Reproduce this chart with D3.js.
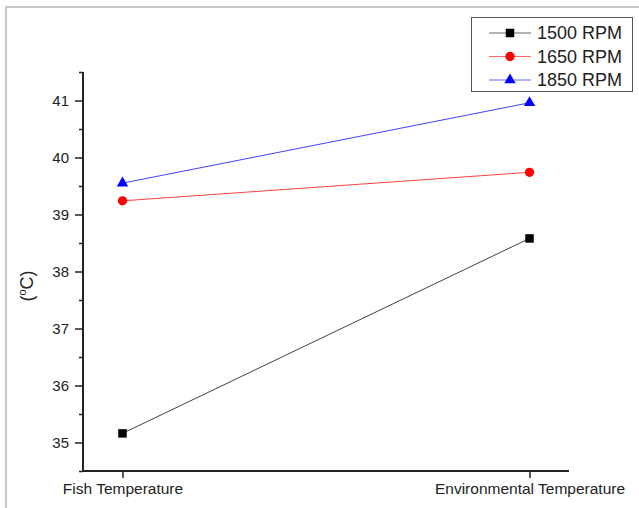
<!DOCTYPE html>
<html><head><meta charset="utf-8">
<script src="https://cdn.jsdelivr.net/npm/d3@7"></script>
<style>body{margin:0;background:#fff}svg{display:block}text{font-family:"Liberation Sans",Arial,sans-serif;fill:#222}</style>
</head><body>
<svg id="c" width="639" height="508"></svg>
<script>
const categories = ["Fish Temperature", "Environmental Temperature"];
const seriesNames = ["1500 RPM", "1650 RPM", "1850 RPM"];
const rpm1500 = [35.16, 38.58];
const rpm1650 = [39.24, 39.74];
const rpm1850 = [39.55, 40.96];
const yTicks = [35, 36, 37, 38, 39, 40, 41];
const yMinorTicks = [34.5, 35.5, 36.5, 37.5, 38.5, 39.5, 40.5, 41.5];

const colors = ["#000000", "#ff0000", "#0000ff"];
const symbols = [d3.symbolSquare, d3.symbolCircle, d3.symbolTriangle];
const symSizes = [72, 68, 56];
const series = [rpm1500, rpm1650, rpm1850];

const svg = d3.select("#c");
// outer frame
svg.append("path").attr("d","M6,508 V7 H639").attr("fill","none").attr("stroke","#c8c8c8").attr("stroke-width",2);

const L = 83, R = 569, T = 72, B = 471;
const y = d3.scaleLinear().domain([34.5, 41.5]).range([B, T]);
const x = d3.scalePoint().domain(categories).range([L, R]).padding(0.097);

// y axis
const yAxis = d3.axisLeft(y).tickValues(yTicks).tickFormat(d3.format("d")).tickSize(8).tickSizeOuter(0);
const gy = svg.append("g").attr("transform",`translate(${L},0)`).call(yAxis);
gy.select(".domain").remove();
gy.selectAll(".tick line").attr("stroke","#222").attr("stroke-width",1.5);
gy.selectAll(".tick text").attr("font-size",15).attr("x",-14).style("font-family","'Liberation Sans',Arial,sans-serif").attr("fill","#222");
const gym = svg.append("g").attr("transform",`translate(${L},0)`).call(d3.axisLeft(y).tickValues(yMinorTicks).tickFormat("").tickSize(4).tickSizeOuter(0));
gym.select(".domain").remove();
gym.selectAll(".tick line").attr("stroke","#222").attr("stroke-width",1.5);

// x axis
const xAxis = d3.axisBottom(x).tickSize(7).tickSizeOuter(0);
const gx = svg.append("g").attr("transform",`translate(0,${B})`).call(xAxis);
gx.select(".domain").remove();
gx.selectAll(".tick line").attr("stroke","#222").attr("stroke-width",1.5);
gx.selectAll(".tick text").attr("font-size",15.5).attr("y",12).style("font-family","'Liberation Sans',Arial,sans-serif").attr("fill","#222");

// axis lines
svg.append("path").attr("d",`M${L},${T} V${B} H${R}`).attr("fill","none").attr("stroke","#222").attr("stroke-width",2);

// y label
const yl = svg.append("text").attr("transform",`translate(33,286) rotate(-90)`).attr("text-anchor","middle").attr("font-size",18);
yl.append("tspan").text("(");
yl.append("tspan").text("o").attr("font-size",11).attr("dy",-7);
yl.append("tspan").text("C)").attr("dy",7);

// series
const line = d3.line().x((d,i)=>x(categories[i])).y(d=>y(d));
series.forEach((s,k)=>{
  svg.append("path").datum(s).attr("d",line).attr("fill","none").attr("stroke",colors[k]).attr("stroke-width",1).attr("stroke-opacity",0.75);
  svg.selectAll(null).data(s).enter().append("path")
    .attr("d",d3.symbol().type(symbols[k]).size(symSizes[k]))
    .attr("transform",(d,i)=>`translate(${x(categories[i])},${y(d)})`)
    .attr("fill",colors[k]);
});

// legend
const lg = svg.append("g");
lg.append("rect").attr("x",471.5).attr("y",17.5).attr("width",161).attr("height",74).attr("fill","#fff").attr("stroke","#555").attr("stroke-width",1);
seriesNames.forEach((n,k)=>{
  const cy = 33 + k*23.5;
  lg.append("line").attr("x1",489).attr("x2",531).attr("y1",cy).attr("y2",cy).attr("stroke",colors[k]).attr("stroke-width",1).attr("stroke-opacity",0.6);
  lg.append("path").attr("d",d3.symbol().type(symbols[k]).size(symSizes[k])).attr("transform",`translate(510,${cy})`).attr("fill",colors[k]);
  const t = lg.append("text").attr("x",537).attr("y",cy+6.5).attr("font-size",18).text(n);
  const w = t.node().getComputedTextLength();
  if (w > 0) t.attr("transform",`translate(537,0) scale(${85/w},1) translate(-537,0)`);
});
</script>
</body></html>
